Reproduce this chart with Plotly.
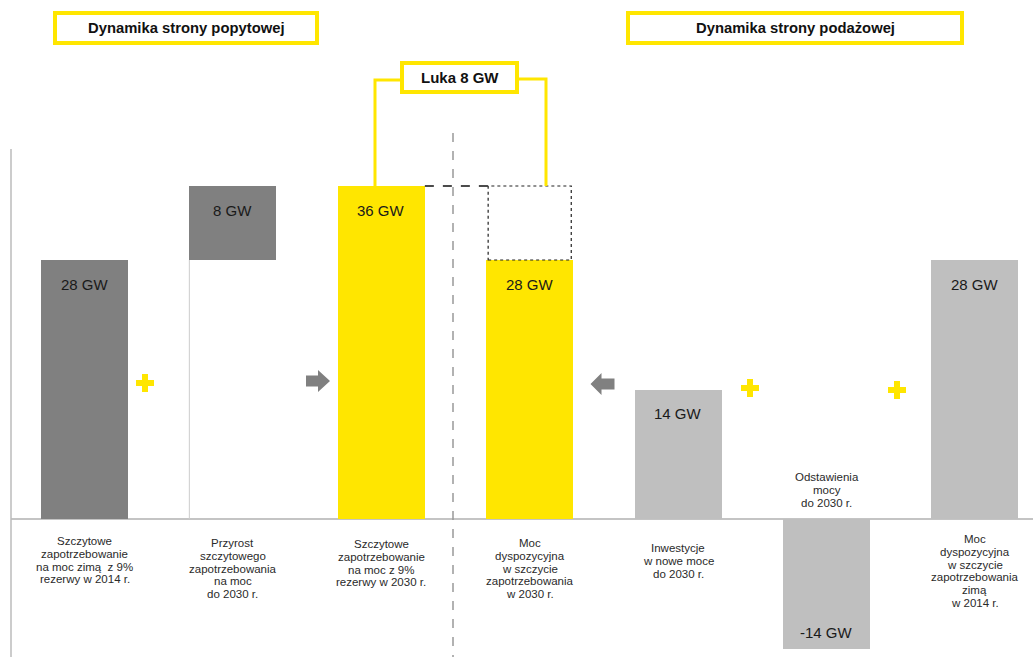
import plotly.graph_objects as go

# --- data -------------------------------------------------------------
categories = [
    "Szczytowe<br>zapotrzebowanie<br>na moc zimą  z 9%<br>rezerwy w 2014 r.",
    "Przyrost<br>szczytowego<br>zapotrzebowania<br>na moc<br>do 2030 r.",
    "Szczytowe<br>zapotrzebowanie<br>na moc z 9%<br>rezerwy w 2030 r.",
    "Moc<br>dyspozycyjna<br>w szczycie<br>zapotrzebowania<br>w 2030 r.",
    "Inwestycje<br>w nowe moce<br>do 2030 r.",
    "Odstawienia<br>mocy<br>do 2030 r.",
    "Moc<br>dyspozycyjna<br>w szczycie<br>zapotrzebowania<br>zimą<br>w 2014 r.",
]
values = [28, 8, 36, 28, 14, -14, 28]          # GW
bases = [0, 28, 0, 0, 0, 0, 0]                 # GW
value_labels = ["28 GW", "8 GW", "36 GW", "28 GW", "14 GW", "-14 GW", "28 GW"]
demand_total = 36
supply_total = 28
section_titles = ["Dynamika strony popytowej", "Dynamika strony podażowej"]

# --- styling ----------------------------------------------------------
W, H = 1033, 657
YELLOW = "#FFE600"
DARK = "#808080"
LIGHT = "#BFBFBF"
bar_colors = [DARK, DARK, YELLOW, YELLOW, LIGHT, LIGHT, LIGHT]
BAR_W = 0.587
FONT = "Arial, Liberation Sans, sans-serif"

# axis calibration: category step 148.4 px, first centre at 84.5 px;
# zero line at 519 px, 9.25 px per GW
X_RANGE = [(0 - 84.5) / 148.4, (W - 84.5) / 148.4]
Y_RANGE = [-(H - 519) / 9.25, 519 / 9.25]


def px(x):
    return x / W


def py(y):
    return 1 - y / H


def dx(x):
    return (x - 84.5) / 148.4


def dy(y):
    return (519 - y) / 9.25


xs = list(range(len(values)))

fig = go.Figure()
fig.add_trace(go.Bar(
    x=xs, y=values, base=bases, width=BAR_W,
    marker=dict(color=bar_colors, line=dict(width=0)),
    hoverinfo="skip", showlegend=False,
))

shapes = []
annotations = []

# baseline and left axis
shapes.append(dict(type="line", xref="paper", yref="y", x0=px(11), x1=1, y0=0, y1=0,
                   line=dict(color="#C4C4C4", width=2), layer="below"))
shapes.append(dict(type="line", xref="paper", yref="paper", x0=px(11), x1=px(11),
                   y0=py(149), y1=0, line=dict(color="#BBBBBB", width=1.5)))

# thin outline on the left of the floating increment column
i_inc = 1
shapes.append(dict(type="line", xref="x", yref="y",
                   x0=i_inc - BAR_W / 2, x1=i_inc - BAR_W / 2, y0=0, y1=bases[i_inc],
                   line=dict(color="#CCCCCC", width=1)))

# demand / supply divider
shapes.append(dict(type="line", xref="x", yref="paper", x0=dx(453), x1=dx(453),
                   y0=py(133), y1=0, line=dict(color="#999999", width=1.5, dash="dash")))

# gap box above the available capacity column
i_dem, i_sup = 2, 3
shapes.append(dict(type="rect", xref="x", yref="y",
                   x0=i_sup - 0.28, x1=i_sup + 0.28, y0=supply_total, y1=demand_total,
                   line=dict(color="#222222", width=1.2, dash="dot"), fillcolor="rgba(0,0,0,0)"))
shapes.append(dict(type="line", xref="x", yref="y",
                   x0=i_dem + BAR_W / 2, x1=i_sup - 0.28, y0=demand_total, y1=demand_total,
                   line=dict(color="#111111", width=1.5, dash="dash")))

# title boxes
def box(x0, y0, x1, y1):
    shapes.append(dict(type="rect", xref="paper", yref="paper",
                       x0=px(x0), x1=px(x1), y0=py(y0), y1=py(y1),
                       line=dict(color=YELLOW, width=4), fillcolor="white"))


def title(text, x, y, size):
    annotations.append(dict(xref="paper", yref="paper", x=px(x), y=py(y), text="<b>%s</b>" % text,
                            xanchor="center", yanchor="middle", showarrow=False,
                            font=dict(family=FONT, size=size, color="#111111")))


box(55, 13, 317, 43)
box(628, 13, 962, 43)
box(402, 63, 517, 92)
title(section_titles[0], 186, 28, 14.8)
title(section_titles[1], 795, 28, 14.8)
title("Luka %d GW" % (demand_total - supply_total), 459.5, 77.5, 15)

# connectors from the gap box down to both columns
shapes.append(dict(type="path", xref="paper", yref="paper",
                   path="M %f,%f L %f,%f L %f,%f" % (px(402), py(80), px(375), py(80), px(375), py(186)),
                   line=dict(color=YELLOW, width=3)))
shapes.append(dict(type="path", xref="paper", yref="paper",
                   path="M %f,%f L %f,%f L %f,%f" % (px(517), py(79), px(546), py(79), px(546), py(186)),
                   line=dict(color=YELLOW, width=3)))

# arrows towards the two central columns
right_arrow = "M-12,5.5 L0,5.5 L0,11 L12,0 L0,-11 L0,-5.5 L-12,-5.5 Z"
left_arrow = "M13,5.5 L0,5.5 L0,11 L-11,0 L0,-11 L0,-5.5 L13,-5.5 Z"
for path, ax, ay in [(right_arrow, dx(318), dy(381)), (left_arrow, dx(601.5), dy(384))]:
    shapes.append(dict(type="path", xref="x", yref="y", xsizemode="pixel", ysizemode="pixel",
                       xanchor=ax, yanchor=ay, path=path,
                       fillcolor=DARK, line=dict(width=0)))

# plus signs between summed columns
fig.add_trace(go.Scatter(
    x=[dx(145), dx(750), dx(897)], y=[dy(383), dy(388), dy(390)],
    mode="markers", marker=dict(symbol="cross", size=15, color=YELLOW, line=dict(width=0)),
    hoverinfo="skip", showlegend=False,
))

# value labels inside the columns
for i, (v, b, t) in enumerate(zip(values, bases, value_labels)):
    shift = -24 if v >= 0 else 16.5
    annotations.append(dict(x=i, y=b + v, xref="x", yref="y", text=t, showarrow=False,
                            xanchor="center", yanchor="middle", yshift=shift,
                            font=dict(family=FONT, size=15, color="#1A1A1A")))

# category descriptions, one annotation per line
first_line = [541, 543, 544, 543, 548, 477, 539]
LINE_H = 12.8
for i, (lab, y0) in enumerate(zip(categories, first_line)):
    for k, line in enumerate(lab.split("<br>")):
        yc = y0 + k * LINE_H
        annotations.append(dict(x=i, y=0, xref="x", yref="y", text=line, showarrow=False,
                                xanchor="center", yanchor="middle", yshift=519 - yc,
                                font=dict(family=FONT, size=11.5, color="#2A2A2A")))

fig.update_layout(
    width=W, height=H,
    margin=dict(l=0, r=0, t=0, b=0),
    paper_bgcolor="white", plot_bgcolor="white",
    xaxis=dict(range=X_RANGE, visible=False, fixedrange=True),
    yaxis=dict(range=Y_RANGE, visible=False, fixedrange=True),
    shapes=shapes, annotations=annotations,
    bargap=0,
)

fig.write_html("out.html")
